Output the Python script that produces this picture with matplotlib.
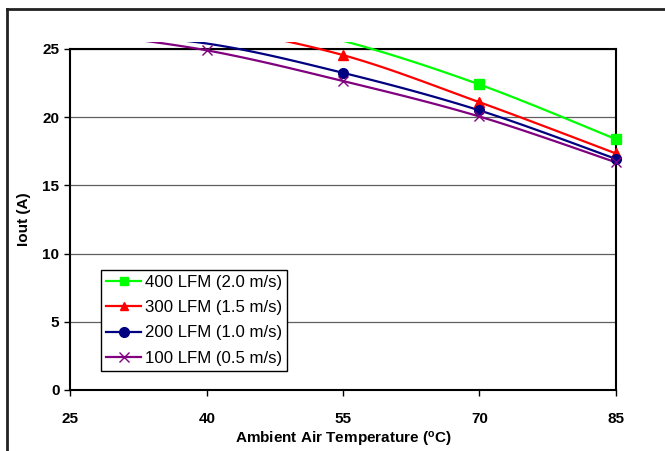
import numpy as np
import matplotlib
matplotlib.use("Agg")
import matplotlib.pyplot as plt
from matplotlib.patches import Rectangle
from matplotlib.lines import Line2D

plt.rcParams['font.family'] = ['Liberation Sans', 'DejaVu Sans']

temps = [25, 40, 55, 70, 85]
labels = ["400 LFM (2.0 m/s)", "300 LFM (1.5 m/s)", "200 LFM (1.0 m/s)", "100 LFM (0.5 m/s)"]
iout_400 = [28.8, 27.8, 25.6, 22.4, 18.4]
iout_300 = [27.4, 26.6, 24.55, 21.1, 17.35]
iout_200 = [26.2, 25.4, 23.25, 20.5, 16.95]
iout_100 = [26.3, 24.9, 22.65, 20.05, 16.7]
series = [iout_400, iout_300, iout_200, iout_100]
colors = ["#00ff00", "#ff0000", "#000080", "#800080"]
markers = ["s", "^", "o", "x"]
xticks = [25, 40, 55, 70, 85]
yticks = [0, 5, 10, 15, 20, 25]


def smooth(x, y, n=30):
    x = np.asarray(x, float); y = np.asarray(y, float)
    px = np.concatenate([[x[0]], x, [x[-1]]])
    py = np.concatenate([[y[0]], y, [y[-1]]])
    xs, ys = [], []
    t = np.linspace(0, 1, n)
    for i in range(1, len(px) - 2):
        p0 = np.array([px[i], py[i]]); p3 = np.array([px[i + 1], py[i + 1]])
        c1 = p0 + (np.array([px[i + 1], py[i + 1]]) - np.array([px[i - 1], py[i - 1]])) / 6
        c2 = p3 - (np.array([px[i + 2], py[i + 2]]) - np.array([px[i], py[i]])) / 6
        b = ((1 - t) ** 3)[:, None] * p0 + (3 * (1 - t) ** 2 * t)[:, None] * c1 \
            + (3 * (1 - t) * t ** 2)[:, None] * c2 + (t ** 3)[:, None] * p3
        xs.append(b[:, 0]); ys.append(b[:, 1])
    return np.concatenate(xs), np.concatenate(ys)


fig = plt.figure(figsize=(6.65, 4.51), dpi=100)
ax = fig.add_axes([0.106, 0.1353, 0.8197, 0.7561])

clip = Rectangle((0, 0), 1, 1.019, transform=ax.transAxes, facecolor='none', edgecolor='none')
fig.add_artist(clip)
clip.set_visible(False)

for y, c, m in zip(series, colors, markers):
    sx, sy = smooth(temps, y)
    ln, = ax.plot(sx, sy, color=c, lw=1.6, zorder=3)
    ln.set_clip_path(clip)
    ya = np.asarray(y); xa = np.asarray(temps)
    mask = ya <= 25
    kw = dict(ms=7, mew=1.0) if m == 'x' else dict(ms=6.5 if m != 'o' else 7)
    ax.plot(xa[mask], ya[mask], ls='none', marker=m, color=c, clip_on=False, zorder=4, **kw)

ax.set_xlim(25, 85)
ax.set_ylim(0, 25)
ax.set_xticks(xticks)
ax.set_yticks(yticks)
ax.tick_params(direction='out', length=4, width=1, labelsize=11)
for lab in ax.get_xticklabels() + ax.get_yticklabels():
    lab.set_fontweight('bold')
ax.tick_params(axis='x', pad=12)
ax.tick_params(axis='y', pad=4)
ax.yaxis.grid(True, color='#606060', lw=0.9)
ax.set_axisbelow(True)
for s in ax.spines.values():
    s.set_linewidth(1.5)
ax.set_xlabel("Ambient Air Temperature ($\\mathregular{^{o}}$C)", fontsize=11, fontweight='bold', labelpad=3)
ax.set_ylabel("Iout (A)", fontsize=11, fontweight='bold', labelpad=8)

handles = [Line2D([0], [0], color=c, marker=m, lw=1.6,
                  ms=(7 if m in 'ox' else 6), mew=1.0) for c, m in zip(colors, markers)]
leg = ax.legend(handles, labels, loc='upper left', bbox_to_anchor=(0.056, 0.353),
                frameon=True, fancybox=False, framealpha=1, edgecolor='black',
                fontsize=12.1, handlelength=2.1, handletextpad=0.2, borderpad=0.3,
                labelspacing=0.62, borderaxespad=0)
leg.get_frame().set_linewidth(1.0)
leg.set_zorder(5)

fig.add_artist(Line2D([7 / 665, 7 / 665], [0, 1 - 9 / 451], color='#222222', lw=2, transform=fig.transFigure))
fig.add_artist(Line2D([7 / 665, 1], [1 - 9 / 451, 1 - 9 / 451], color='#222222', lw=2, transform=fig.transFigure))

fig.savefig("out.png", dpi=100)
